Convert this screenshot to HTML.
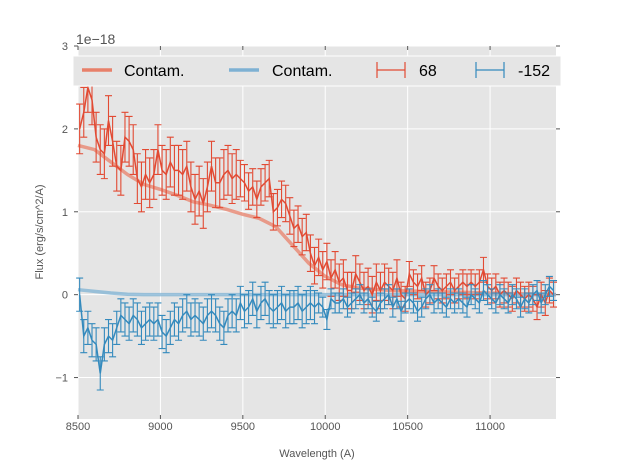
<!DOCTYPE html>
<html><head><meta charset="utf-8"><style>
body{margin:0;background:#fff;}
svg{font-family:"Liberation Sans","DejaVu Sans",sans-serif;}
</style></head><body>
<svg id="chart" width="617" height="467" viewBox="0 0 617 467" xmlns="http://www.w3.org/2000/svg">
<rect x="78" y="46" width="478" height="373" fill="#e5e5e5"/>
<g id="grid"></g>
<g id="ticks"></g>
<g id="series"></g>
<text x="76" y="44" font-size="14" fill="#555">1e−18</text>
<text x="317" y="457" font-size="11" fill="#555" text-anchor="middle">Wavelength (A)</text>
<text transform="translate(43,232) rotate(-90)" font-size="11" fill="#555" text-anchor="middle">Flux (erg/s/cm^2/A)</text>
<g>
<rect x="73" y="56" width="488" height="30" fill="#e5e5e5" stroke="#fff" stroke-width="1"/>
<g><line x1="82" y1="70" x2="112" y2="70" stroke="#e8806a" stroke-width="3.5"/><text x="124" y="76" font-size="16">Contam.</text></g>
<g><line x1="229" y1="70" x2="259" y2="70" stroke="#7eb1d3" stroke-width="3.5"/><text x="272" y="76" font-size="16">Contam.</text></g>
<g stroke="#e24a33" stroke-width="1.2"><line x1="377" y1="70" x2="405" y2="70"/><line x1="377" y1="62" x2="377" y2="78"/><line x1="405" y1="62" x2="405" y2="78"/><text x="419" y="76" font-size="16" stroke="none" fill="#000">68</text></g>
<g stroke="#348abd" stroke-width="1.2"><line x1="476" y1="70" x2="504" y2="70"/><line x1="476" y1="62" x2="476" y2="78"/><line x1="504" y1="62" x2="504" y2="78"/><text x="518" y="76" font-size="16" stroke="none" fill="#000">-152</text></g>
</g>
</svg>
<script>
const xTicks=[8500,9000,9500,10000,10500,11000];
const yTicks=[-1,0,1,2,3];
const yTickLabels=["−1","0","1","2","3"];
const startWave=8510, stepWave=25;
const redFlux=[2.0,2.2,2.5,2.35,1.9,1.75,1.7,2.1,1.85,1.55,1.5,1.9,1.85,1.75,1.4,1.3,1.45,1.35,1.45,1.75,1.5,1.45,1.6,1.5,1.5,1.45,1.55,1.3,1.15,1.25,1.1,1.3,1.55,1.35,1.35,1.45,1.5,1.4,1.45,1.4,1.35,1.25,1.3,1.15,1.3,1.35,1.4,1.0,1.05,1.15,1.1,0.95,0.8,0.85,0.7,0.75,0.5,0.35,0.45,0.3,0.4,0.2,0.3,0.15,0.2,0.05,0.05,0.25,0.15,0.05,0.1,0.0,0.15,0.05,0.15,0.1,0.05,0.2,0.0,-0.05,0.25,0.15,0.1,0.2,0.0,0.05,0.2,0.1,0.05,0.1,0.15,0.05,0.1,0.15,0.1,0.15,0.1,0.15,0.3,0.1,0.05,0.1,0.0,0.05,0.0,-0.05,0.05,0.0,-0.05,0.0,-0.05,-0.15,0.0,-0.1,0.05,0.0];
const blueFlux=[0.0,-0.5,-0.4,-0.55,-0.6,-0.95,-0.6,-0.5,-0.55,-0.4,-0.25,-0.3,-0.35,-0.25,-0.3,-0.4,-0.35,-0.3,-0.35,-0.3,-0.45,-0.5,-0.4,-0.3,-0.35,-0.25,-0.2,-0.3,-0.25,-0.3,-0.35,-0.25,-0.2,-0.25,-0.35,-0.4,-0.25,-0.2,-0.25,-0.1,-0.2,-0.15,-0.05,-0.2,-0.1,-0.05,-0.15,-0.2,-0.15,-0.1,-0.2,-0.15,-0.15,-0.1,-0.2,-0.15,-0.1,-0.15,-0.1,-0.15,-0.3,-0.05,-0.1,-0.1,-0.05,-0.15,-0.1,-0.05,0.0,-0.1,-0.05,-0.15,-0.2,-0.1,-0.05,0.0,-0.15,-0.05,-0.2,-0.1,-0.05,-0.1,-0.2,-0.15,-0.05,0.0,-0.1,-0.05,-0.1,-0.15,-0.05,-0.1,-0.05,-0.1,-0.15,0.0,-0.05,-0.1,0.05,0.0,-0.05,-0.1,0.0,-0.05,-0.1,0.0,-0.05,-0.15,-0.05,-0.1,0.0,0.05,-0.1,0.0,0.1,0.05];
const redErr=[0.3,0.22,0.15];
const blueErr=[0.2,0.12];
const contamWave=[8500,8600,8700,8800,8900,9000,9100,9200,9300,9400,9500,9600,9700,9800,9900,10000,10100,10200,10400,10600,11000,11400];
const redContam=[1.8,1.75,1.6,1.45,1.33,1.27,1.2,1.12,1.08,1.03,0.97,0.92,0.82,0.6,0.38,0.22,0.12,0.08,0.05,0.04,0.02,0.0];
const blueContam=[0.06,0.04,0.02,0.005,0,0,0,0,0,0,0,0,0,0,0,0,0,0,0,0,0,0];
const X0=78,X1=556,Y0=419,Y1=46,xmin=8500,xmax=11400,ymin=-1.5,ymax=3;
const sx=v=>X0+(v-xmin)/(xmax-xmin)*(X1-X0);
const sy=v=>Y0-(v-ymin)/(ymax-ymin)*(Y0-Y1);
const NS="http://www.w3.org/2000/svg";
function mk(tag,parent,attrs){const e=document.createElementNS(NS,tag);for(const k in attrs)e.setAttribute(k,attrs[k]);parent.appendChild(e);return e;}
const grid=document.getElementById('grid'),ticks=document.getElementById('ticks'),ser=document.getElementById('series');
xTicks.forEach(t=>{const x=sx(t);
 const g=mk('line',grid,{x1:x,x2:x,y1:Y1,y2:Y0,stroke:'#fff','stroke-width':1});
 
 mk('line',ticks,{x1:x,x2:x,y1:Y0,y2:Y0-4,stroke:'#555'});mk('line',ticks,{x1:x,x2:x,y1:Y1,y2:Y1+4,stroke:'#555'});
 const l=mk('text',ticks,{x:x,y:Y0+11,'font-size':11,fill:'#555','text-anchor':'middle'});l.textContent=t;
 });
yTicks.forEach((t,i)=>{const y=sy(t);
 const g=mk('line',grid,{x1:X0,x2:X1,y1:y,y2:y,stroke:'#fff','stroke-width':1});
 
 mk('line',ticks,{x1:X0-4,x2:X0,y1:y,y2:y,stroke:'#555'});mk('line',ticks,{x1:X1,x2:X1+4,y1:y,y2:y,stroke:'#555'});
 const l=mk('text',ticks,{x:X0-10,y:y+4,'font-size':11,fill:'#555','text-anchor':'end'});l.textContent=yTickLabels[i];
 });
function contam(vals,color,name){
 const p=mk('polyline',ser,{points:contamWave.map((w,i)=>sx(w)+','+sy(vals[i])).join(' '),fill:'none',stroke:color,'stroke-width':3.5,'stroke-opacity':0.75});
 }
function errSeries(vals,errs,color,name){
 const g=mk('g',ser,{stroke:color,'stroke-width':1.1,fill:'none'});
 
 vals.forEach((v,i)=>{const x=sx(startWave+i*stepWave);const e=errs[Math.min(errs.length-1,Math.floor(i/(vals.length/errs.length)))];
  const a=sy(v+e),b=sy(v-e);
  const bar=mk('path',g,{d:`M${x},${a}V${b}M${x-3.5},${a}H${x+3.5}M${x-3.5},${b}H${x+3.5}`});
  });
 const p=mk('polyline',g,{points:vals.map((v,i)=>sx(startWave+i*stepWave)+','+sy(v)).join(' '),'stroke-width':1.5});
 }
contam(redContam,'#e8806a','contam-red-line');
contam(blueContam,'#7eb1d3','contam-blue-line');
errSeries(redFlux,redErr,'#e24a33','series-68');
errSeries(blueFlux,blueErr,'#348abd','series-152');
</script>
</body></html>
